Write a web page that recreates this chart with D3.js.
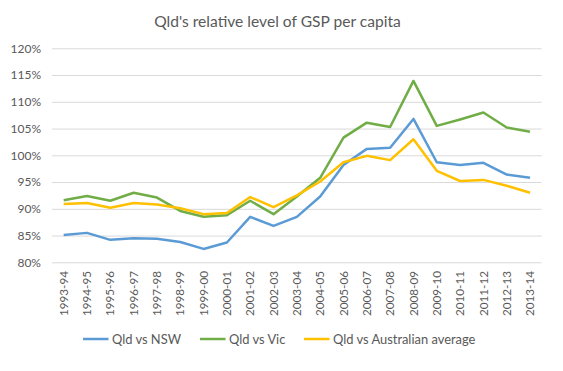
<!DOCTYPE html>
<html>
<head>
<meta charset="utf-8">
<script src="https://cdnjs.cloudflare.com/ajax/libs/d3/7.8.5/d3.min.js"></script>
<style>
  body { margin: 0; background: #fff; }
  svg { font-family: Lato, "Liberation Sans", sans-serif; }
</style>
</head>
<body>
<div id="chart"></div>
<script>
// categories (financial years)
var years = ["1993-94","1994-95","1995-96","1996-97","1997-98","1998-99","1999-00",
  "2000-01","2001-02","2002-03","2003-04","2004-05","2005-06","2006-07","2007-08",
  "2008-09","2009-10","2010-11","2011-12","2012-13","2013-14"];

// series values, % of comparison
var vsNSW = [85.1,85.5,84.2,84.5,84.4,83.8,82.5,83.7,88.5,86.8,88.5,92.3,98.2,101.2,101.4,106.8,98.7,98.2,98.6,96.4,95.8];
var vsVic = [91.6,92.4,91.5,93.0,92.1,89.6,88.5,88.8,91.5,89.0,92.3,95.8,103.3,106.1,105.3,113.9,105.5,106.7,108.0,105.2,104.4];
var vsAus = [90.9,91.1,90.2,91.1,90.8,90.1,89.0,89.2,92.2,90.3,92.5,95.1,98.7,99.9,99.1,103.0,97.1,95.2,95.4,94.3,93.0];

var yTicks = [80,85,90,95,100,105,110,115,120];

var series = [
  {name:"Qld vs NSW", values:vsNSW, color:"#5B9BD5"},
  {name:"Qld vs Vic", values:vsVic, color:"#70AD47"},
  {name:"Qld vs Australian average", values:vsAus, color:"#FFC000"}
];

var W = 563, H = 371;
var svg = d3.select("#chart").append("svg")
    .attr("width", W)
    .attr("height", H);

var x = d3.scaleBand().domain(years).range([52, 541.7]);
var y = d3.scaleLinear().domain([80, 120]).range([262.3, 48.3]);

// title
svg.append("text")
    .attr("x", 277.5)
    .attr("y", 27)
    .attr("text-anchor", "middle")
    .style("font-size", "15.6px")
    .style("fill", "#595959")
    .text("Qld's relative level of GSP per capita");

// gridlines + y labels
var yAxis = svg.append("g")
    .attr("transform", "translate(52,0)")
    .call(d3.axisLeft(y).tickValues(yTicks).tickSize(-(541.7 - 52)).tickPadding(11)
        .tickFormat(function(d){ return d + "%"; }));
yAxis.select(".domain").remove();
yAxis.selectAll(".tick line").attr("stroke", "#D9D9D9").attr("stroke-width", 1);
yAxis.selectAll(".tick text")
    .style("font-size", "12px")
    .style("fill", "#595959")
    .style("font-family", "Lato, sans-serif");

// x labels, rotated
svg.append("g").selectAll("text")
    .data(years).enter()
    .append("text")
    .attr("transform", function(d){ return "translate(" + (x(d) + x.bandwidth()/2) + ",271) rotate(-90)"; })
    .attr("text-anchor", "end")
    .attr("dy", "0.35em")
    .style("font-size", "11.7px")
    .style("fill", "#595959")
    .text(function(d){ return d; });

// lines
var line = d3.line()
    .x(function(d, i){ return x(years[i]) + x.bandwidth()/2; })
    .y(function(d){ return y(d); });

svg.selectAll(".series")
    .data(series).enter()
    .append("path")
    .attr("class", "series")
    .attr("d", function(d){ return line(d.values); })
    .attr("fill", "none")
    .attr("stroke", function(d){ return d.color; })
    .attr("stroke-width", 2.5)
    .attr("stroke-linejoin", "round");

// legend
var legendX = [83, 200, 304];
var leg = svg.selectAll(".legend")
    .data(series).enter()
    .append("g")
    .attr("class", "legend")
    .attr("transform", function(d, i){ return "translate(" + legendX[i] + ",339)"; });
leg.append("line")
    .attr("x1", 0).attr("x2", 25.5)
    .attr("y1", 0).attr("y2", 0)
    .attr("stroke", function(d){ return d.color; })
    .attr("stroke-width", 2.5);
leg.append("text")
    .attr("x", 29)
    .attr("dy", "0.35em")
    .style("font-size", "12.9px")
    .style("fill", "#595959")
    .text(function(d){ return d.name; });
</script>
</body>
</html>
